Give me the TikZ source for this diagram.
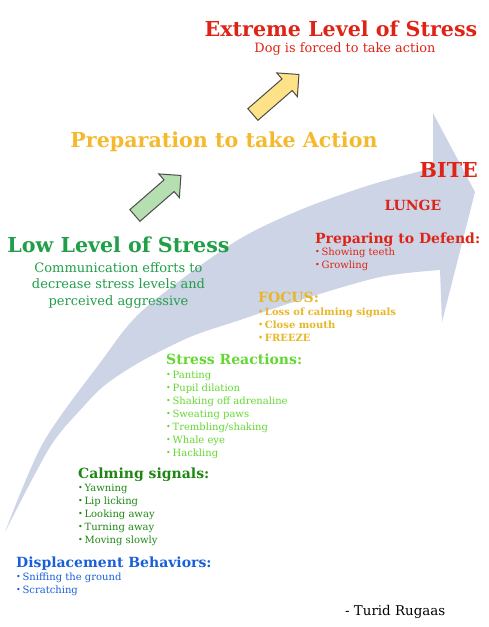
\documentclass[tikz,border=0pt]{standalone}
\usepackage{fontspec}
\setmainfont{DejaVu Serif}
\usetikzlibrary{positioning, shapes.arrows}
\definecolor{stressred}{RGB}{222,36,22}
\definecolor{prepamber}{RGB}{245,185,45}
\definecolor{focusamber}{RGB}{232,182,40}
\definecolor{lowgreen}{RGB}{32,158,72}
\definecolor{reactgreen}{RGB}{100,215,50}
\definecolor{calmgreen}{RGB}{30,135,20}
\definecolor{dispblue}{RGB}{25,95,215}
\definecolor{sweepfill}{RGB}{204,212,230}
\definecolor{upyellow}{RGB}{253,226,135}
\definecolor{upgreen}{RGB}{181,223,176}
\tikzset{
  bigtitle/.style={font=\bfseries\fontsize{20.6}{23}\selectfont, inner sep=0pt},
  subtitle/.style={font=\fontsize{12.9}{15}\selectfont, inner sep=0pt},
  commtxt/.style={font=\fontsize{13}{16.5}\selectfont, inner sep=0pt, align=center},
  grouphead/.style={font=\bfseries\fontsize{14}{16}\selectfont, inner sep=0pt, anchor=base west},
  itemtxt/.style={font=\fontsize{10}{12}\selectfont, inner sep=0pt, anchor=base west},
  focusitem/.style={itemtxt, font=\bfseries\fontsize{10}{12}\selectfont},
  % small block arrows between the levels
  uparrow/.style={
    single arrow,
    draw=black!70,
    line width=1pt,
    minimum height=61pt,
    single arrow head extend=8pt,
    inner xsep=0pt,
    inner ysep=7.2pt,
    rotate=41,
  },
}
\newcommand{\itm}{{\fontsize{8}{8}\selectfont\raisebox{0.15ex}{•}}\,}

\begin{document}
\begin{tikzpicture}[x=1pt, y=1pt]
  \useasboundingbox (0,0) rectangle (488,-627);

  % the big sweep
  \fill[sweepfill] plot[smooth] coordinates {(5,-532) (43,-443) (100,-363) (143,-310)
      (233,-243) (300,-210) (370,-185) (433,-168)}
    -- (433,-113) -- (475,-192) -- (442,-322)
    -- plot[smooth] coordinates {(440,-270) (380,-277) (300,-300) (240,-320) (190,-337)
      (140,-362) (105,-385) (83,-407) (50,-447) (5,-532)} -- cycle;

  \node[bigtitle, text=stressred, anchor=base] (extreme) at (341,-36) {Extreme Level of Stress};
  \node[subtitle, text=stressred, below=16pt of extreme.base, anchor=base, xshift=4pt] (forced) {Dog is forced to take action};

  \node[uparrow, fill=upyellow] (up2) at (273,-97) {};
  \node[bigtitle, text=prepamber, anchor=base] (prep) at (224,-147) {Preparation to take Action};
  \node[uparrow, fill=upgreen] (up1) at (155,-198) {};

  \node[bigtitle, text=lowgreen, anchor=base] (low) at (118.5,-252) {Low Level of Stress};
  \node[commtxt, text=lowgreen, below=10pt of low.base, anchor=north] (comm) {Communication efforts to\\
    decrease stress levels and\\ perceived aggressive};

  \node[bigtitle, text=stressred, anchor=base east] (bite) at (478,-177) {BITE};
  \node[font=\bfseries\fontsize{14}{16}\selectfont, inner sep=0pt, text=stressred, anchor=base] (lunge) at (413,-210) {LUNGE};

  \node[grouphead, text=stressred] (defend) at (315,-243) {Preparing to Defend:};
  \foreach \txt [count=\i] in {Showing teeth, Growling}
    \node[itemtxt, text=stressred] (df\i) at (315,{-242-13*\i}) {\itm\txt};

  \node[grouphead, text=focusamber] (focus) at (258,-302) {FOCUS:};
  \foreach \txt [count=\i] in {Loss of calming signals, Close mouth, FREEZE}
    \node[focusitem, text=focusamber] (fc\i) at (258,{-302-13*\i}) {\itm\txt};

  \node[grouphead, text=reactgreen] (react) at (166,-364) {Stress Reactions:};
  \foreach \txt [count=\i] in {Panting, Pupil dilation, Shaking off adrenaline, Sweating paws,
      Trembling/shaking, Whale eye, Hackling}
    \node[itemtxt, text=reactgreen] (sr\i) at (166,{-365-13*\i}) {\itm\txt};

  \node[grouphead, text=calmgreen] (calm) at (78,-478) {Calming signals:};
  \foreach \txt [count=\i] in {Yawning, Lip licking, Looking away, Turning away, Moving slowly}
    \node[itemtxt, text=calmgreen] (cs\i) at (78,{-478-13*\i}) {\itm\txt};

  \node[grouphead, text=dispblue] (disp) at (16,-567) {Displacement Behaviors:};
  \foreach \txt [count=\i] in {Sniffing the ground, Scratching}
    \node[itemtxt, text=dispblue] (db\i) at (16,{-567-13*\i}) {\itm\txt};

  \node[font=\fontsize{13.4}{15}\selectfont, inner sep=0pt, anchor=base west] (sig) at (345,-615) {- Turid Rugaas};
\end{tikzpicture}
\end{document}
